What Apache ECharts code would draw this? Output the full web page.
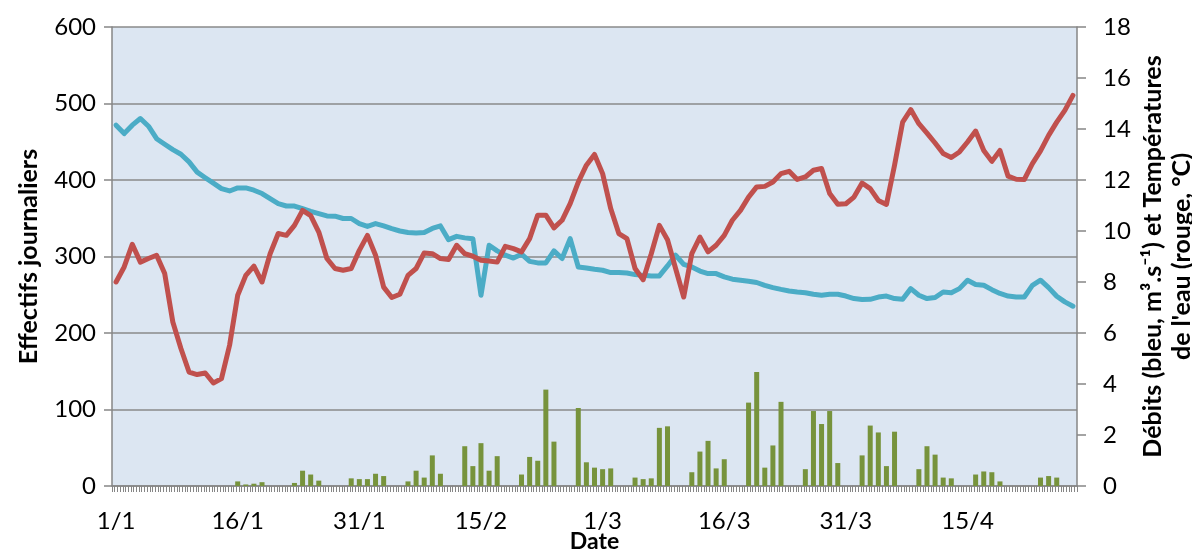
<!DOCTYPE html>
<html>
<head>
<meta charset="utf-8">
<script src="https://cdn.jsdelivr.net/npm/echarts@6/dist/echarts.min.js"></script>
<style>
html,body{margin:0;padding:0;background:#fff;}
#chart{width:1192px;height:551px;}
</style>
</head>
<body>
<div id="chart"></div>
<script>
// Calendar (leap year) : 1/1 → 28/4, one category per day
const monthLengths = [31, 29, 31, 30];
const dayCount = 119;
const dates = [];
for (let m = 0; m < monthLengths.length && dates.length < dayCount; m++) {
  for (let d = 1; d <= monthLengths[m] && dates.length < dayCount; d++) {
    dates.push(d + '/' + (m + 1));
  }
}

// Effectifs journaliers (left axis)
const effectifs = [
  0,0,0,0,0,0,0,0,0,0, 0,0,0,0,0,6,2,3,5,0,
  0,0,4,20,15,7,0,0,0,10, 9,9,16,13,0,0,6,20,11,40,
  16,0,0,52,26,56,20,39,0,0, 15,38,33,126,58,0,0,102,31,24,
  22,23,0,0,11,9,10,76,78,0, 0,18,45,59,23,35,0,0,109,149,
  24,53,110,0,0,22,98,81,98,30, 0,0,40,79,70,26,71,0,0,22,
  52,41,11,10,0,0,15,19,18,6, 0,0,0,0,11,13,11,0,0
];

// Débits (bleu, m3.s-1) (right axis)
const debits = [
  14.15,13.82,14.15,14.41,14.11,13.62,13.40,13.19,13.01,12.71,
  12.31,12.09,11.88,11.66,11.57,11.69,11.69,11.60,11.47,11.27,
  11.07,10.98,10.98,10.88,10.77,10.68,10.59,10.58,10.49,10.49,
  10.29,10.18,10.29,10.20,10.09,10.00,9.94,9.92,9.94,10.10,
  10.20,9.66,9.79,9.73,9.70,7.48,9.44,9.22,9.05,8.94,
  9.09,8.81,8.75,8.75,9.22,8.92,9.70,8.59,8.55,8.50,
  8.46,8.37,8.37,8.35,8.29,8.26,8.24,8.24,8.63,9.05,
  8.69,8.59,8.43,8.33,8.33,8.20,8.11,8.07,8.03,7.98,
  7.87,7.78,7.71,7.65,7.61,7.58,7.52,7.48,7.52,7.52,
  7.45,7.35,7.31,7.32,7.41,7.45,7.35,7.32,7.74,7.48,
  7.35,7.39,7.61,7.58,7.74,8.07,7.90,7.87,7.70,7.55,
  7.45,7.41,7.41,7.87,8.07,7.78,7.44,7.22,7.05
];

// Températures de l'eau (rouge, °C) (right axis)
const temperatures = [
  8.00,8.59,9.48,8.78,8.92,9.05,8.33,6.43,5.39,4.47,
  4.37,4.43,4.04,4.21,5.52,7.48,8.26,8.62,8.00,9.11,
  9.90,9.83,10.22,10.81,10.60,9.96,8.92,8.53,8.46,8.53,
  9.24,9.83,9.05,7.80,7.39,7.52,8.26,8.53,9.14,9.11,
  8.92,8.88,9.44,9.11,9.01,8.85,8.82,8.78,9.40,9.31,
  9.18,9.70,10.62,10.62,10.12,10.42,11.07,11.92,12.58,13.00,
  12.25,10.88,9.90,9.70,8.53,8.09,9.11,10.22,9.66,8.53,
  7.41,9.11,9.76,9.18,9.44,9.83,10.42,10.81,11.33,11.73,
  11.75,11.92,12.25,12.34,12.02,12.12,12.38,12.45,11.47,11.05,
  11.07,11.33,11.88,11.66,11.20,11.04,12.58,14.27,14.76,14.21,
  13.84,13.45,13.04,12.88,13.10,13.49,13.92,13.16,12.73,13.16,
  12.15,12.03,12.02,12.64,13.14,13.75,14.27,14.73,15.32
];

// Axis ranges and ticks
const leftTicks = { min: 0, max: 600, interval: 100 };
const rightTicks = { min: 0, max: 18, interval: 2 };

const FONT = 'Lato';
const TICK = '#868686';
const chart = echarts.init(document.getElementById('chart'), null, { renderer: 'canvas' });
chart.setOption({
  animation: false,
  backgroundColor: '#ffffff',
  textStyle: { fontFamily: FONT, color: '#000' },
  grid: {
    left: 112, right: 115, top: 27, bottom: 65,
    containLabel: false,
    outerBoundsMode: 'none',
    show: true, backgroundColor: '#DCE6F2', borderWidth: 0
  },
  xAxis: [
    {
      type: 'category',
      data: dates,
      boundaryGap: true,
      axisLine: { lineStyle: { color: TICK, width: 1.5 } },
      axisTick: { show: false },
      axisLabel: { interval: 14, fontSize: 24, margin: 23, color: '#000', fontFamily: FONT },
      splitLine: { show: false },
      name: 'Date',
      nameLocation: 'middle',
      nameGap: 44,
      nameMoveOverlap: false,
      nameTextStyle: { fontSize: 23, fontWeight: 'bold', color: '#000', fontFamily: FONT }
    },
    {
      // tick comb only (one major per day + minor ticks)
      type: 'value',
      position: 'bottom',
      min: 0, max: dayCount, interval: 1,
      axisLine: { show: false },
      axisLabel: { show: false },
      splitLine: { show: false },
      axisTick: { show: true, length: 6, lineStyle: { color: TICK, width: 1 } },
      minorTick: { show: true, splitNumber: 3, length: 6, lineStyle: { color: TICK, width: 1 } },
      minorSplitLine: { show: false }
    }
  ],
  yAxis: [
    {
      type: 'value',
      position: 'left',
      min: leftTicks.min, max: leftTicks.max, interval: leftTicks.interval,
      axisLine: { show: true, lineStyle: { color: TICK, width: 1.5 } },
      axisTick: { show: true, length: 8, lineStyle: { color: TICK, width: 1.5 } },
      axisLabel: { fontSize: 24, margin: 16, color: '#000', fontFamily: FONT },
      splitLine: { show: true, lineStyle: { color: '#8a8a8a', width: 1.5 } },
      name: 'Effectifs journaliers',
      nameLocation: 'middle',
      nameRotate: 90,
      nameGap: 71,
      nameMoveOverlap: false,
      nameTextStyle: { fontSize: 25, fontWeight: 'bold', color: '#000', fontFamily: FONT }
    },
    {
      type: 'value',
      position: 'right',
      min: rightTicks.min, max: rightTicks.max, interval: rightTicks.interval,
      axisLine: { show: true, lineStyle: { color: TICK, width: 1.5 } },
      axisTick: { show: true, length: 9, lineStyle: { color: TICK, width: 1.5 } },
      axisLabel: { fontSize: 24, margin: 26, color: '#000', fontFamily: FONT },
      splitLine: { show: false },
      name: 'Débits (bleu, m³.s⁻¹) et Températures\nde l\'eau (rouge, °C)',
      nameLocation: 'middle',
      nameRotate: 90,
      nameGap: 61,
      nameMoveOverlap: false,
      nameTextStyle: { fontSize: 25, fontWeight: 'bold', color: '#000', fontFamily: FONT, lineHeight: 29, align: 'center' }
    }
  ],
  series: [
    {
      name: 'Effectifs journaliers',
      type: 'bar',
      xAxisIndex: 0,
      yAxisIndex: 0,
      data: effectifs,
      barWidth: 5,
      itemStyle: { color: '#77933C' }
    },
    {
      name: 'Débits',
      type: 'line',
      xAxisIndex: 0,
      yAxisIndex: 1,
      data: debits,
      showSymbol: false,
      symbol: 'none',
      lineStyle: { color: '#4BACC6', width: 5, join: 'round', cap: 'round' },
      itemStyle: { color: '#4BACC6' }
    },
    {
      name: 'Températures',
      type: 'line',
      xAxisIndex: 0,
      yAxisIndex: 1,
      data: temperatures,
      showSymbol: false,
      symbol: 'none',
      lineStyle: { color: '#C0504D', width: 5, join: 'round', cap: 'round' },
      itemStyle: { color: '#C0504D' }
    }
  ]
});
</script>
</body>
</html>
